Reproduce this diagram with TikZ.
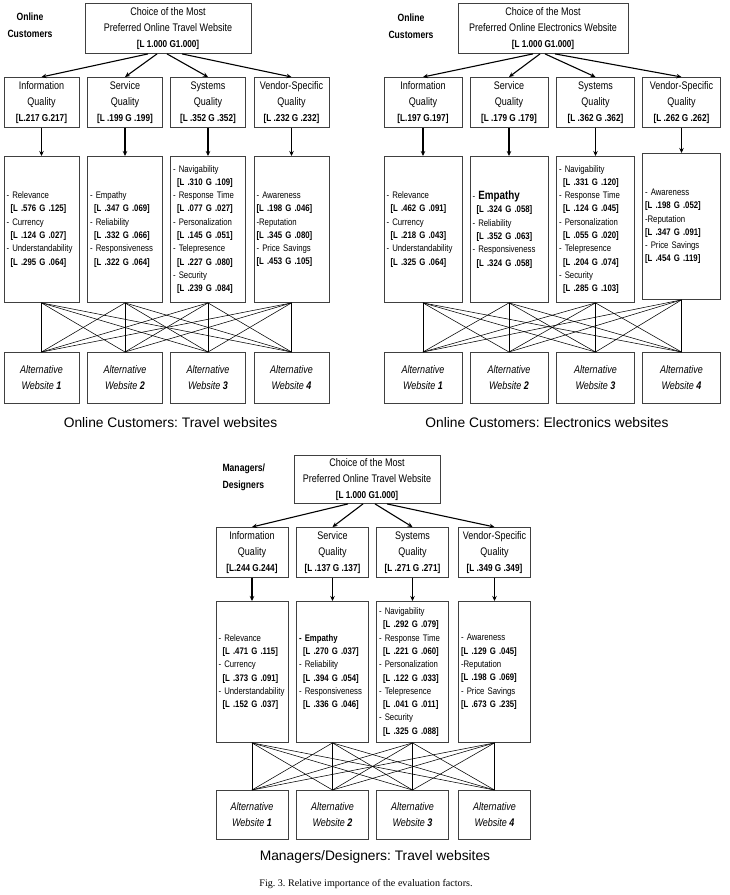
\documentclass[tikz,border=0pt]{standalone}
\usepackage{fontspec}
\setmainfont{Liberation Sans}
\newfontfamily\narrowsf{Liberation Sans}[FakeStretch=0.82]
\newfontfamily\figserif{Liberation Serif}
\usetikzlibrary{arrows.meta}
\frenchspacing
\hyphenpenalty=10000
\newcommand\wt[1]{{\fontsize{10}{16}\selectfont\bfseries[#1]}}
\newcommand\val[1]{\hspace*{4pt}\textbf{[#1]}}
\tikzset{
  box/.style={draw=black!75,line width=0.9pt,inner xsep=2.5pt,inner ysep=0pt,anchor=north},
  goal/.style={box,minimum height=50pt,align=center,font=\narrowsf\fontsize{11}{16}\selectfont},
  crit/.style={box,minimum height=50pt,align=center,font=\narrowsf\fontsize{11}{16}\selectfont},
  sub/.style={box,minimum height=146pt,align=left,font=\narrowsf\fontsize{9.5}{13.3}\selectfont},
  alt/.style={box,minimum height=51pt,align=center,font=\narrowsf\itshape\fontsize{11}{16}\selectfont},
  grp/.style={font=\narrowsf\bfseries\fontsize{10.5}{17}\selectfont,align=center},
  captext/.style={font=\fontsize{13.8}{16}\selectfont},
  arr/.style={-{Stealth[length=5pt,width=4.5pt]},line width=1.1pt},
  web/.style={line width=0.55pt},
}
\begin{document}
\begin{tikzpicture}[x=1pt,y=-1pt]
  \useasboundingbox (0,0) rectangle (729,895);
  % online customers, travel
  \node[grp] (t-lbl) at (30,25.5) {Online\\Customers};
  \node[goal,minimum width=166pt] (t-g) at (168,3)
    {Choice of the Most\\Preferred Online Travel Website\\\wt{L 1.000 G1.000}};
  \foreach \i/\x/\t in {1/41.5/{Information\\Quality\\\wt{L.217 G.217}},
      2/125/{Service\\Quality\\\wt{L .199 G .199}},
      3/208/{Systems\\Quality\\\wt{L .352 G .352}},
      4/291.5/{Vendor-Specific\\Quality\\\wt{L .232 G .232}}}
    \node[crit,minimum width=75pt] (t-c\i) at (\x,77) {\t};
  \foreach \i/\x/\t in {1/41.5/{- Relevance\\\val{L .576 G .125}\\- Currency\\\val{L .124 G .027}\\- Understandability\\\val{L .295 G .064}},
      2/125/{- Empathy\\\val{L .347 G .069}\\- Reliability\\\val{L .332 G .066}\\- Responsiveness\\\val{L .322 G .064}},
      3/208/{- Navigability\\\val{L .310 G .109}\\- Response Time\\\val{L .077 G .027}\\- Personalization\\\val{L .145 G .051}\\- Telepresence\\\val{L .227 G .080}\\- Security\\\val{L .239 G .084}},
      4/291.5/{- Awareness\\\textbf{[L .198 G .046]}\\-Reputation\\\textbf{[L .345 G .080]}\\- Price Savings\\\textbf{[L .453 G .105]}}}
    \node[sub,text width=70pt] (t-s\i) at (\x,156) {\t};
  \foreach \i/\x in {1/41.5,2/125,3/208,4/291.5}
    \node[alt,minimum width=75pt] (t-a\i) at (\x,352) {Alternative\\Website \textbf{\i}};
  \node[captext] (t-cap) at (170.5,423) {Online Customers: Travel websites};
  % online customers, electronics
  \node[grp] (e-lbl) at (411,26) {Online\\Customers};
  \node[goal,minimum width=170pt] (e-g) at (543,3)
    {Choice of the Most\\Preferred Online Electronics Website\\\wt{L 1.000 G1.000}};
  \foreach \i/\x/\t in {1/423/{Information\\Quality\\\wt{L.197 G.197}},
      2/509/{Service\\Quality\\\wt{L .179 G .179}},
      3/595.5/{Systems\\Quality\\\wt{L .362 G .362}},
      4/681.5/{Vendor-Specific\\Quality\\\wt{L .262 G .262}}}
    \node[crit,minimum width=78pt] (e-c\i) at (\x,77) {\t};
  \foreach \i/\x/\y/\t in {1/423/156/{- Relevance\\\val{L .462 G .091}\\- Currency\\\val{L .218 G .043}\\- Understandability\\\val{L .325 G .064}},
      2/509/156/{- {\bfseries\fontsize{12}{13.3}\selectfont Empathy}\\\val{L .324 G .058}\\- Reliability\\\val{L .352 G .063}\\- Responsiveness\\\val{L .324 G .058}},
      3/595.5/156/{- Navigability\\\val{L .331 G .120}\\- Response Time\\\val{L .124 G .045}\\- Personalization\\\val{L .055 G .020}\\- Telepresence\\\val{L .204 G .074}\\- Security\\\val{L .285 G .103}},
      4/681.5/153/{- Awareness\\\textbf{[L .198 G .052]}\\-Reputation\\\textbf{[L .347 G .091]}\\- Price Savings\\\textbf{[L .454 G .119]}}}
    \node[sub,text width=73pt] (e-s\i) at (\x,\y) {\t};
  \foreach \i/\x in {1/423,2/509,3/595.5,4/681.5}
    \node[alt,minimum width=78pt] (e-a\i) at (\x,352) {Alternative\\Website \textbf{\i}};
  \node[captext] (e-cap) at (547,423) {Online Customers: Electronics websites};
  % managers and designers, travel
  \node[grp,align=left,anchor=west] (m-lbl) at (219,477.5) {Managers/\\Designers};
  \node[goal,minimum width=146pt,minimum height=48pt] (m-g) at (367,455)
    {Choice of the Most\\Preferred Online Travel Website\\\wt{L 1.000 G1.000}};
  \foreach \i/\x/\t in {1/252/{Information\\Quality\\\wt{L.244 G.244}},
      2/332.5/{Service\\Quality\\\wt{L .137 G .137}},
      3/412.5/{Systems\\Quality\\\wt{L .271 G .271}},
      4/494.5/{Vendor-Specific\\Quality\\\wt{L .349 G .349}}}
    \node[crit,minimum width=72pt] (m-c\i) at (\x,527) {\t};
  \foreach \i/\x/\t in {1/252/{- Relevance\\\val{L .471 G .115}\\- Currency\\\val{L .373 G .091}\\- Understandability\\\val{L .152 G .037}},
      2/332.5/{\textbf{- Empathy}\\\val{L .270 G .037}\\- Reliability\\\val{L .394 G .054}\\- Responsiveness\\\val{L .336 G .046}},
      3/412.5/{- Navigability\\\val{L .292 G .079}\\- Response Time\\\val{L .221 G .060}\\- Personalization\\\val{L .122 G .033}\\- Telepresence\\\val{L .041 G .011}\\- Security\\\val{L .325 G .088}},
      4/494.5/{- Awareness\\\textbf{[L .129 G .045]}\\-Reputation\\\textbf{[L .198 G .069]}\\- Price Savings\\\textbf{[L .673 G .235]}}}
    \node[sub,text width=67pt,minimum height=141pt] (m-s\i) at (\x,601) {\t};
  \foreach \i/\x in {1/252,2/332.5,3/412.5,4/494.5}
    \node[alt,minimum width=72pt,minimum height=49pt] (m-a\i) at (\x,790) {Alternative\\Website \textbf{\i}};
  \node[captext] (m-cap) at (375,857) {Managers/Designers: Travel websites};
  \node[font=\figserif\fontsize{10.1}{12}\selectfont] (fig) at (366,884)
    {Fig. 3. Relative importance of the evaluation factors.};
  % connectors
  \foreach \p/\da/\db/\dc/\dd in {t/-20/-11/-1/14,e/-10/-3/2/12,m/-19/-4/8/20}{
    \foreach \i/\dx in {1/\da,2/\db,3/\dc,4/\dd}
      \draw[arr] ([xshift=\dx pt]\p-g.south) -- (\p-c\i.north);
    \foreach \i in {1,...,4}{
      \draw[arr] (\p-c\i) -- (\p-s\i);
      \foreach \j in {1,...,4}
        \draw[web] (\p-s\i.south) -- (\p-a\j.north);
    }
  }
\end{tikzpicture}
\end{document}
